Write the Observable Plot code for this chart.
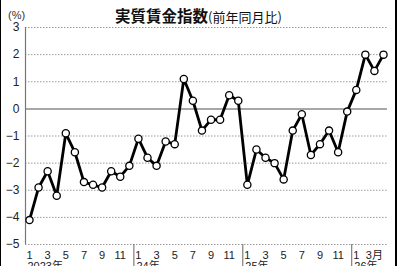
<!DOCTYPE html>
<html><head><meta charset="utf-8">
<script src="https://cdn.jsdelivr.net/npm/d3@7"></script>
<script src="https://cdn.jsdelivr.net/npm/@observablehq/plot@0.6"></script>
<style>
html,body{margin:0;padding:0;background:#fff;overflow:hidden;}
#wrap{position:relative;width:400px;height:266px;font-family:"Liberation Sans","Noto Sans CJK JP",sans-serif;}
#title{position:absolute;left:115px;top:3px;white-space:nowrap;font-family:"Noto Sans CJK JP",sans-serif;color:#111;}
#title b{font-size:15.5px;font-weight:700;}
#title span{font-size:13px;}
#unit{position:absolute;left:8px;top:9px;font-size:11px;color:#333;}
.bl{position:absolute;top:0;height:266px;background:#000;}
svg{position:absolute;left:0;top:0;}
</style></head>
<body><div id="wrap">
<div id="chart"></div>
<div id="title"><b>実質賃金指数</b><span>(前年同月比)</span></div>
<div id="unit">(%)</div>
<div class="bl" style="left:0;width:1px"></div>
<div class="bl" style="left:395px;width:2px"></div>
</div>
<script>
// Monthly values, Jan 2023 .. Apr 2026 (%, year on year)
const values2023 = [-4.1, -2.9, -2.3, -3.2, -0.9, -1.6, -2.7, -2.8, -2.9, -2.3, -2.5, -2.1];
const values2024 = [-1.1, -1.8, -2.1, -1.2, -1.3, 1.1, 0.3, -0.8, -0.4, -0.4, 0.5, 0.3];
const values2025 = [-2.8, -1.5, -1.8, -2.0, -2.6, -0.8, -0.2, -1.7, -1.3, -0.8, -1.6, -0.1];
const values2026 = [0.7, 2.0, 1.4, 2.0];
const yearLabels = ["2023年", "24年", "25年", "26年"];
const monthTickLabels = ["1", "3", "5", "7", "9", "11"];
const lastTickLabel = "3月";
const yTicks = [-5, -4, -3, -2, -1, 0, 1, 2, 3];

const allValues = [...values2023, ...values2024, ...values2025, ...values2026];
const data = allValues.map((v, i) => ({i, v}));
const n = allValues.length;

// x ticks: odd months for each year, labelled
const xTicks = [];
const xTickText = new Map();
for (let y = 0; y < 4; y++) {
  monthTickLabels.forEach((lab, k) => {
    const idx = y * 12 + k * 2;
    if (idx < n) { xTicks.push(idx); xTickText.set(idx, lab); }
  });
}
const lastIdx = xTicks[xTicks.length - 1];
xTickText.set(lastIdx, lastTickLabel);

const yearStarts = yearLabels.map((t, k) => ({i: k * 12, t}));
const separators = yearLabels.slice(1).map((t, k) => (k + 1) * 12 - 0.5);
const xDomain = [-0.44, n - 1 + 0.44];

const chart = Plot.plot({
  width: 400,
  height: 266,
  marginLeft: 25,
  marginRight: 13,
  marginTop: 27,
  marginBottom: 22,
  style: {fontFamily: '"Liberation Sans","Noto Sans CJK JP",sans-serif', background: "transparent", overflow: "visible"},
  x: {type: "linear", domain: xDomain},
  y: {domain: [-5, 3]},
  marks: [
    Plot.ruleY(yTicks.filter(d => d !== 0), {stroke: "#9a9a9a", strokeWidth: 1, strokeDasharray: "1.5,1.5"}),
    Plot.ruleY([0], {stroke: "#8a8a8a", strokeWidth: 1.5}),
    Plot.ruleX([xDomain[0]], {y1: -5, y2: 3, stroke: "#777", strokeWidth: 1.2}),
    Plot.ruleX(separators, {y1: -5, y2: -6, stroke: "#666", strokeWidth: 1, clip: false}),
    Plot.axisY(yTicks, {tickSize: 0, tickPadding: 6, fontSize: 12, label: null, fill: "#222"}),
    Plot.axisX(xTicks, {tickSize: 0, tickPadding: 6.5, fontSize: 11, label: null, fill: "#222", tickFormat: d => xTickText.get(d)}),
    Plot.text(yearStarts, {x: "i", y: () => -5, text: "t", textAnchor: "start", lineAnchor: "top", dy: 18, dx: -2, fontSize: 11, fill: "#222"}),
    Plot.line(data, {x: "i", y: "v", stroke: "#000", strokeWidth: 2.8, strokeLinejoin: "miter"}),
    Plot.dot(data, {x: "i", y: "v", r: 3.6, fill: "#fff", stroke: "#000", strokeWidth: 1.3})
  ]
});
document.getElementById("chart").appendChild(chart);
</script>
</body></html>
